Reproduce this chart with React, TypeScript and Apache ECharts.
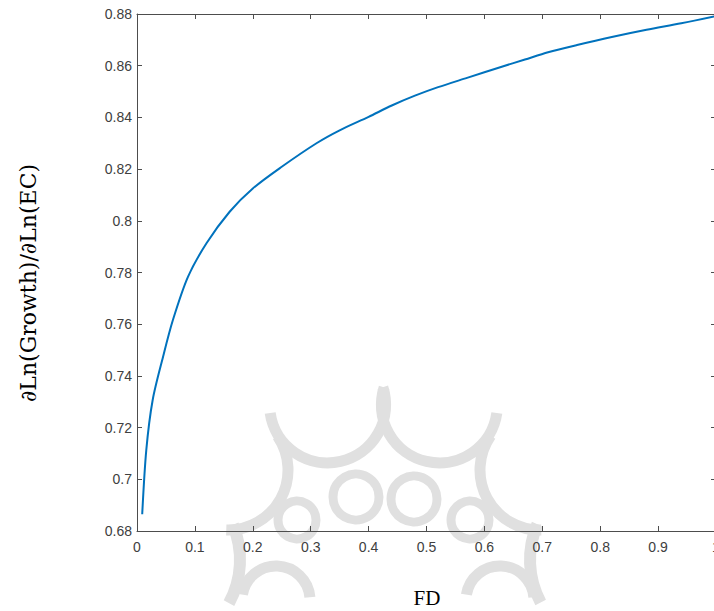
import React, { useEffect, useRef } from "react";
import * as echarts from "echarts";

const fdValues = [0.009, 0.016, 0.027, 0.045, 0.062, 0.088, 0.12, 0.16, 0.2, 0.25, 0.31, 0.35, 0.4, 0.44, 0.48, 0.52, 0.57, 0.63, 0.67, 0.71, 0.76, 0.82, 0.88, 0.94, 1.0];
const elasticity = [0.6865, 0.7112, 0.7306, 0.7474, 0.7616, 0.7783, 0.7913, 0.8035, 0.8125, 0.8209, 0.83, 0.835, 0.8402, 0.8446, 0.8484, 0.8517, 0.8553, 0.8596, 0.8624, 0.8652, 0.868, 0.8711, 0.8739, 0.8764, 0.8792];
const yLabel = "∂Ln(Growth)/∂Ln(EC)";
const xLabel = "FD";

const axisColor = "#4d4d4d";
const labelColor = "#404040";
const wm = "#e0e0e0";

function wmArc(cx: number, cy: number, r: number, s: number, e: number, w = 11) {
  return {
    type: "arc",
    z: -10,
    silent: true,
    shape: { cx, cy, r, startAngle: s, endAngle: e, clockwise: true },
    style: { stroke: wm, lineWidth: w, fill: "none" },
  };
}
function wmRing(cx: number, cy: number, r: number, w = 9) {
  return {
    type: "circle",
    z: -10,
    silent: true,
    shape: { cx, cy, r },
    style: { stroke: wm, lineWidth: w, fill: "none" },
  };
}

export default function App() {
  const ref = useRef<HTMLDivElement>(null);
  useEffect(() => {
    if (!ref.current) return;
    const chart = echarts.init(ref.current, null, { renderer: "svg" });
    const data = fdValues.map((x, i) => [x, elasticity[i]]);
    const baseX = {
      type: "value",
      min: 0,
      max: 1,
      interval: 0.1,
      splitLine: { show: false },
      axisLine: { show: true, onZero: false, lineStyle: { color: axisColor, width: 1 } },
      axisTick: { show: true, inside: true, length: 5, lineStyle: { color: axisColor } },
    };
    const baseY = {
      type: "value",
      min: 0.68,
      max: 0.88,
      interval: 0.02,
      splitLine: { show: false },
      axisLine: { show: true, onZero: false, lineStyle: { color: axisColor, width: 1 } },
      axisTick: { show: true, inside: true, length: 5, lineStyle: { color: axisColor } },
    };
    const watermark = [
      wmArc(327.6, 404.9, 58, -0.31, 3.0),
      wmArc(439.4, 404.9, 58, 0.14, 3.45),
      wmRing(356, 497, 23),
      wmRing(414, 499, 23),
      wmRing(297, 520, 19),
      wmRing(470, 520, 19),
      wmArc(228, 470, 60, -0.6, 1.6),
      wmArc(540, 470, 60, 1.55, 3.75),
      wmArc(276, 600, 34, 3.3, 6.2),
      wmArc(500, 600, 34, 3.3, 6.2),
      wmArc(150, 560, 90, -0.4, 0.5, 12),
      wmArc(620, 560, 90, 2.65, 3.55, 12),
    ];
    chart.setOption({
      animation: false,
      backgroundColor: "#ffffff",
      grid: { left: 137, top: 14, width: 579, height: 517, containLabel: false, outerBoundsMode: "none" },
      xAxis: [
        {
          ...baseX,
          position: "bottom",
          axisLabel: { color: labelColor, fontSize: 14, fontFamily: "Liberation Sans", margin: 9 },
        },
        { ...baseX, position: "top", axisLabel: { show: false } },
      ],
      yAxis: [
        {
          ...baseY,
          position: "left",
          axisLabel: {
            color: labelColor,
            fontSize: 14,
            fontFamily: "Liberation Sans",
            margin: 5,
            formatter: (v: number) => String(parseFloat(v.toFixed(2))),
          },
        },
        { ...baseY, position: "right", axisLabel: { show: false } },
      ],
      graphic: [
        ...watermark,
        {
          type: "text",
          x: 28,
          y: 283,
          rotation: Math.PI / 2,
          style: {
            text: yLabel,
            fontFamily: "DejaVu Serif",
            fontSize: 22,
            fill: "#000",
            align: "center",
            verticalAlign: "middle",
          },
        },
        {
          type: "text",
          x: 427,
          y: 598,
          style: {
            text: xLabel,
            fontFamily: "Liberation Serif",
            fontSize: 21,
            fill: "#000",
            align: "center",
            verticalAlign: "middle",
          },
        },
      ],
      series: [
        {
          type: "line",
          xAxisIndex: 0,
          yAxisIndex: 0,
          data,
          showSymbol: false,
          smooth: 0.3,
          lineStyle: { color: "#0072BD", width: 2 },
          itemStyle: { color: "#0072BD" },
          z: 5,
        },
      ],
    });
    return () => chart.dispose();
  }, []);
  return <div ref={ref} style={{ position: "absolute", left: 0, top: 0, width: 714, height: 611 }} />;
}
